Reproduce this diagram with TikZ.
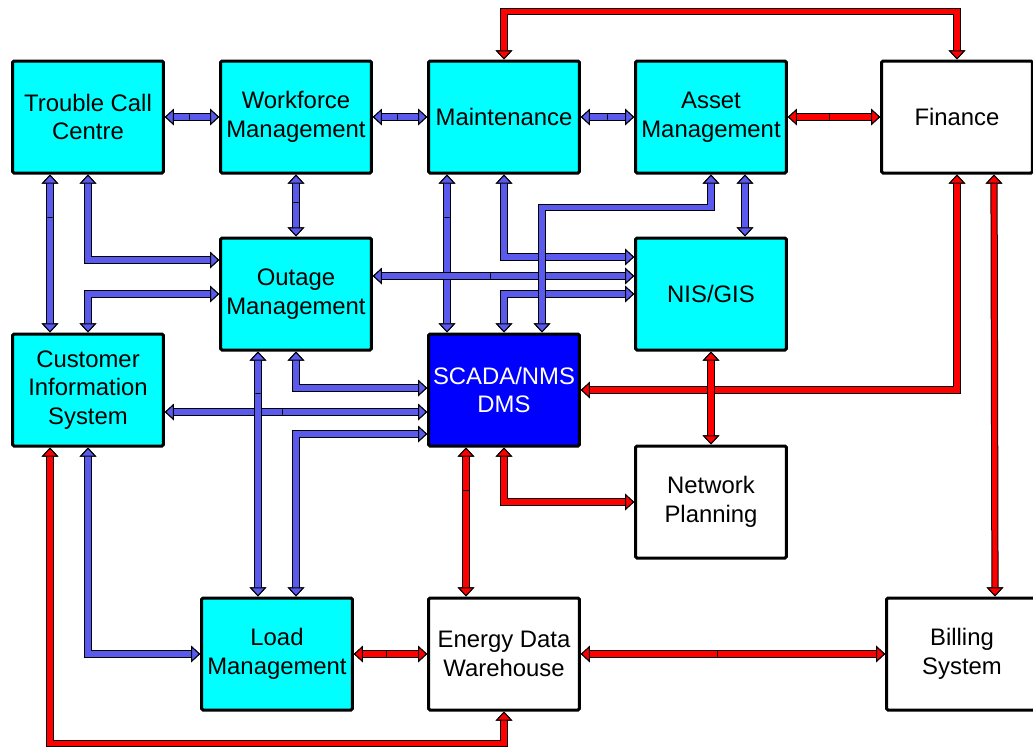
\documentclass[tikz,border=0pt]{standalone}
\usepackage{fontspec}
\setmainfont{Liberation Sans}
\usetikzlibrary{arrows.meta,calc}

\definecolor{boxcyan}{RGB}{0,255,255}
\definecolor{scadablue}{RGB}{0,0,255}
\definecolor{linkblue}{RGB}{90,90,238}
\definecolor{linkred}{RGB}{255,0,0}

\tikzset{
  box/.style={draw=black, line width=2.25pt, minimum width=113pt, minimum height=84pt,
    align=center, inner sep=0pt, rounded corners=1pt,
    font=\fontsize{17.9}{21.4}\selectfont},
  sys/.style={box, fill=boxcyan},
  ext/.style={box, fill=white},
  hdo/.tip={Triangle[width=12.4pt,length=6.8pt,line width=0.75pt,color=black,fill=black]},
  hdb/.tip={Triangle[width=12.4pt,length=6.8pt,line width=0.75pt,color=black,fill=linkblue]},
  hdr/.tip={Triangle[width=12.4pt,length=6.8pt,line width=0.75pt,color=black,fill=linkred]},
  rim/.style={draw=black, line width=5.4pt, line join=miter, hdo-hdo},
  blink/.style={draw=linkblue, line width=3.9pt, line join=miter, hdb-hdb},
  rlink/.style={draw=linkred, line width=3.9pt, line join=miter, hdr-hdr},
  tk/.style={draw=black, line width=0.6pt, inner sep=0pt, minimum width=0pt,
    minimum height=3.9pt, sloped, pos=#1},
}

% a link is an outlined band: black rim first, coloured core on top
\newcommand\bluelink[1]{\draw[rim] #1; \draw[blink] #1;}
\newcommand\redlink[1]{\draw[rim] #1; \draw[rlink] #1;}

\begin{document}
\begin{tikzpicture}[x=0.75pt,y=-0.75pt]
\useasboundingbox (0,0) rectangle (1033,747);

% systems
\node[sys] (tcc)    at (88,117)  {Trouble Call\\Centre};
\node[sys] (wm)     at (296,117) {Workforce\\Management};
\node[sys] (maint)  at (504,117) {Maintenance};
\node[sys] (asset)  at (711,117) {Asset\\Management};
\node[ext] (fin)    at (957,117) {Finance};
\node[sys] (outage) at (296,294) {Outage\\Management};
\node[sys] (nis)    at (711,294) {NIS/GIS};
\node[sys] (cis)    at (88,390)  {Customer\\Information\\System};
\node[box, fill=scadablue, text=white] (scada) at (504,390) {SCADA/NMS\\DMS};
\node[ext] (net)    at (711,502) {Network\\Planning};
\node[sys] (load)   at (277,654) {Load\\Management};
\node[ext] (edw)    at (504,654) {Energy Data\\Warehouse};
\node[ext] (bill)   at (962,654) {Billing\\System};

% blue links
\bluelink{(tcc.east) -- node[tk=0.45]{} (wm.west)}
\bluelink{(wm.east) -- node[tk=0.45]{} (maint.west)}
\bluelink{(maint.east) -- node[tk=0.5]{} (asset.west)}
\bluelink{(wm.south) -- node[tk=0.45]{} (outage.north)}
\bluelink{($(tcc.south)+(-38,0)$) -- node[tk=0.27]{} ($(cis.north)+(-38,0)$)}
\bluelink{(tcc.south) |- ($(outage.west)+(0,-34)$)}
\bluelink{(cis.north) |- (outage.west)}
\bluelink{($(maint.south)+(-57,0)$) -- node[tk=0.27]{} ($(scada.north)+(-57,0)$)}
\bluelink{(maint.south) |- ($(nis.west)+(0,-37)$)}
\bluelink{($(outage.east)+(0,-18)$) -- node[tk=0.45]{} ($(nis.west)+(0,-18)$)}
\bluelink{(scada.north) |- (nis.west)}
\bluelink{($(asset.south)+(34,0)$) -- ($(nis.north)+(34,0)$)}
\bluelink{(asset.south) -- ++(0,33) -| ($(scada.north)+(38,0)$)}
\bluelink{(outage.south) |- ($(scada.west)+(0,-2)$)}
\bluelink{($(cis.east)+(0,22)$) -- node[tk=0.45]{} ($(scada.west)+(0,22)$)}
\bluelink{($(outage.south)+(-38,0)$) -- node[tk=0.17]{} ($(load.north)+(-19,0)$)}
\bluelink{($(load.north)+(19,0)$) |- ($(scada.west)+(0,44)$)}
\bluelink{(cis.south) |- (load.west)}

% red links
\redlink{(asset.east) -- node[tk=0.45]{} (fin.west)}
\redlink{(maint.north) |- ($(fin.north)+(0,-48)$) -- (fin.north)}
\redlink{(fin.south) |- (scada.east)}
\redlink{($(fin.south)+(37,0)$) -- ($(bill.north)+(33,0)$)}
\redlink{(nis.south) -- (net.north)}
\redlink{(scada.south) |- (net.west)}
\redlink{($(scada.south)+(-38,0)$) -- node[tk=0.29]{} ($(edw.north)+(-38,0)$)}
\redlink{(load.east) -- node[tk=0.45]{} (edw.west)}
\redlink{(edw.east) -- node[tk=0.45]{} (bill.west)}
\redlink{($(cis.south)+(-38,0)$) |- ($(edw.south)+(0,32)$) -- (edw.south)}
\end{tikzpicture}
\end{document}
